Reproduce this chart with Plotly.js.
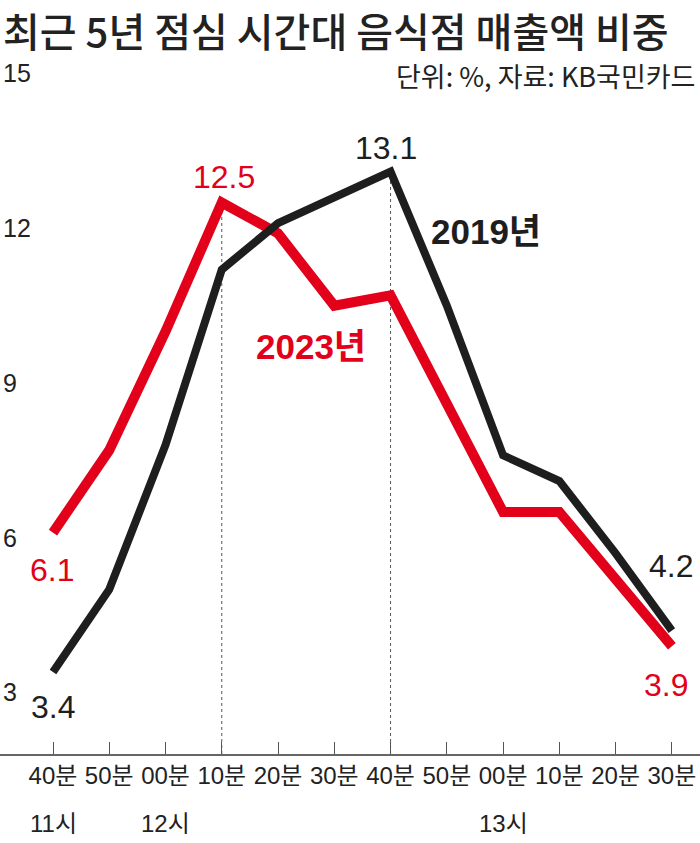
<!DOCTYPE html>
<html>
<head>
<meta charset="utf-8">
<script src="https://cdn.plot.ly/plotly-3.0.1.min.js"></script>
<style>html,body{margin:0;padding:0;background:#fff;}#chart{width:700px;height:843px;}</style>
</head>
<body>
<div id="chart"></div>
<script>
const categories = ["40분","50분","00분","10분","20분","30분","40분","50분","00분","10분","20분","30분"];
const hourLabels = ["11시","","12시","","","","","","13시","","",""];
const y2019 = [3.4,5.0,7.8,11.2,12.1,12.6,13.1,10.5,7.6,7.1,5.7,4.2];
const y2023 = [6.1,7.7,10.0,12.5,11.9,10.5,10.7,8.6,6.5,6.5,5.2,3.9];
const yTicks = [3,6,9,12,15];
const seriesNames = ["2019년","2023년"];
const peakIdx = [3,6]; // 10분 (12.5, 2023 peak) and 40분 (13.1, 2019 peak)

const RED = "#e2001a", BLACK = "#1e1e1e";
const NUM = "'Liberation Sans Narrow','Liberation Sans','Noto Sans CJK KR',sans-serif";
const KR = "'Noto Sans CJK KR','Liberation Sans',sans-serif";
const xIdx = categories.map((_, i) => i);
const yMin = 1.81, yMax = 15.65;

const traces = [
  {x: xIdx, y: y2023, type: "scatter", mode: "lines", name: seriesNames[1],
   line: {color: RED, width: 10}, hoverinfo: "skip"},
  {x: xIdx, y: y2019, type: "scatter", mode: "lines", name: seriesNames[0],
   line: {color: BLACK, width: 8}, hoverinfo: "skip"}
];

const peakVals = [y2023[peakIdx[0]], y2019[peakIdx[1]]];
const shapes = peakIdx.map((ix, k) => ({
  type: "line", xref: "x", yref: "y", x0: ix, x1: ix, y0: yMin, y1: peakVals[k],
  line: {color: "#555", width: 1, dash: "3px,3px"}, layer: "below"
}));

const last = categories.length - 1;
const ann = [];
const lab = (x, y, text, color, xs, ys, size) => ann.push({
  x, y, xref: "x", yref: "y", text, showarrow: false,
  xshift: xs, yshift: ys, font: {family: NUM, size: size || 32, color}
});
lab(0, y2023[0], String(y2023[0]), RED, -1, -37);
lab(0, y2019[0], String(y2019[0]), BLACK, 0, -35);
lab(peakIdx[0], y2023[peakIdx[0]], String(y2023[peakIdx[0]]), RED, 2, 26);
lab(peakIdx[1], y2019[peakIdx[1]], String(y2019[peakIdx[1]]), BLACK, -5, 24);
lab(last, y2019[last], String(y2019[last]), BLACK, -1, 65);
lab(last, y2023[last], String(y2023[last]), RED, -6, -39);

ann.push({x: 7.69, y: 11.93, xref: "x", yref: "y", text: "<b>" + seriesNames[0] + "</b>",
  showarrow: false, font: {family: NUM, size: 35, color: BLACK}});
ann.push({x: 4.585, y: 9.70, xref: "x", yref: "y", text: "<b>" + seriesNames[1] + "</b>",
  showarrow: false, font: {family: NUM, size: 35, color: RED}});

hourLabels.forEach((h, i) => {
  if (h) ann.push({x: i, y: 0, xref: "x", yref: "paper", yanchor: "middle", yshift: -69,
    text: h, showarrow: false, font: {family: NUM, size: 24, color: "#222"}});
});

// title
ann.push({x: 0, y: 1, xref: "paper", yref: "paper", xanchor: "left", yanchor: "top",
  xshift: 2, yshift: 40, borderpad: 0, text: "최근 5년 점심 시간대 음식점 매출액 비중", showarrow: false,
  font: {family: KR, size: 40, color: "#222", weight: 500}});
// unit / source note
ann.push({x: 1, y: 15, xref: "paper", yref: "y", xanchor: "right", yanchor: "middle",
  xshift: -4, yshift: -2, borderpad: 0, text: "단위: %, 자료: KB국민카드", showarrow: false,
  font: {family: KR, size: 27, color: "#222"}});

const layout = {
  width: 700, height: 843,
  margin: {l: 0, r: 0, t: 40, b: 89},
  paper_bgcolor: "#fff", plot_bgcolor: "#fff",
  showlegend: false,
  xaxis: {range: [-0.942, 11.5], tickmode: "array", tickvals: xIdx, ticktext: categories,
    ticks: "inside", ticklen: 12, tickcolor: "#555", tickwidth: 1,
    showline: true, linecolor: "#666", linewidth: 1.5, showgrid: false, zeroline: false,
    tickfont: {family: NUM, size: 24, color: "#222"}, fixedrange: true},
  yaxis: {range: [yMin, yMax], tickmode: "array", tickvals: yTicks, ticktext: yTicks.map(String),
    ticks: "", ticklabelposition: "inside", ticklabelstandoff: 0,
    showline: false, showgrid: false, zeroline: false,
    tickfont: {family: NUM, size: 25, color: "#222"}, fixedrange: true},
  shapes, annotations: ann
};

Plotly.newPlot("chart", traces, layout, {displayModeBar: false, staticPlot: true});
</script>
</body>
</html>
